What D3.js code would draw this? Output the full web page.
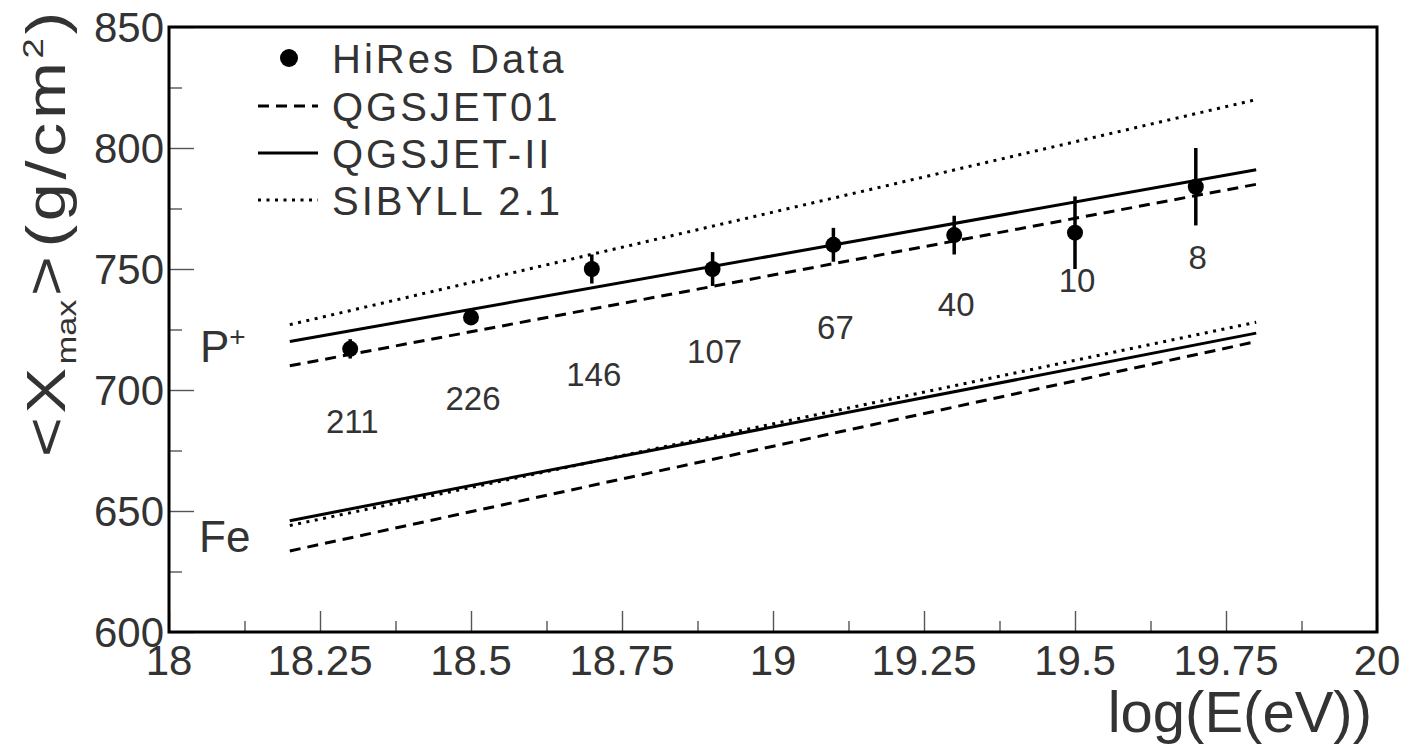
<!DOCTYPE html>
<html>
<head>
<meta charset="utf-8">
<script src="https://cdn.jsdelivr.net/npm/d3@7"></script>
<style>
  html, body { margin: 0; padding: 0; background: #fff; }
  svg { display: block; }
  text { font-family: "Liberation Sans", Arial, sans-serif; fill: #333; }
</style>
</head>
<body>
<svg id="chart" width="1414" height="748"></svg>
<script>
// HiRes mean depth of shower maximum per energy bin
const energy   = [18.3, 18.5, 18.7, 18.9, 19.1, 19.3, 19.5, 19.7];
const xmax     = [717, 730, 750, 750, 760, 764, 765, 784];
const xmaxErr  = [4, 3, 6, 7, 7, 8, 15, 16];
const nEvents  = [211, 226, 146, 107, 67, 40, 10, 8];

// Model predictions (straight lines in log E) for proton and iron primaries
const modelEnergy   = [18.2, 19.8];
const protonQGS01   = [710, 785];
const protonQGSII   = [720, 791];
const protonSIBYLL  = [727, 820];
const ironQGS01     = [633.5, 720];
const ironQGSII     = [646, 723.5];
const ironSIBYLL    = [644, 728];

const xTicks = [18, 18.25, 18.5, 18.75, 19, 19.25, 19.5, 19.75, 20];
const xTickLabels = ["18", "18.25", "18.5", "18.75", "19", "19.25", "19.5", "19.75", "20"];
const yTicks = [600, 650, 700, 750, 800, 850];
const legendNames = ["HiRes Data", "QGSJET01", "QGSJET-II", "SIBYLL 2.1"];

const svg = d3.select("#chart");
const frame = { left: 169, right: 1377, top: 27, bottom: 632 };

const x = d3.scaleLinear().domain([18, 20]).range([frame.left, frame.right]);
const y = d3.scaleLinear().domain([600, 850]).range([frame.bottom, frame.top]);

const styles = {
  dashed: "11,7",
  solid: null,
  dotted: "3,5.5"
};

// ticks drawn inward from left and bottom axes
const tickColor = "#555";
const xMinor = d3.range(0, 17).map(i => 18 + i * 0.125).filter(v => !xTicks.some(t => Math.abs(t - v) < 1e-9));
const yMinor = d3.range(0, 11).map(i => 600 + i * 25).filter(v => !yTicks.includes(v));

const axX = svg.append("g").attr("transform", `translate(0,${frame.bottom})`)
  .call(d3.axisBottom(x).tickValues(xTicks).tickSize(-21).tickFormat(""));
const axXm = svg.append("g").attr("transform", `translate(0,${frame.bottom})`)
  .call(d3.axisBottom(x).tickValues(xMinor).tickSize(-11).tickFormat(""));
const axY = svg.append("g").attr("transform", `translate(${frame.left},0)`)
  .call(d3.axisLeft(y).tickValues(yTicks).tickSize(-25).tickFormat(""));
const axYm = svg.append("g").attr("transform", `translate(${frame.left},0)`)
  .call(d3.axisLeft(y).tickValues(yMinor).tickSize(-13).tickFormat(""));
[axX, axXm, axY, axYm].forEach(g => {
  g.select(".domain").remove();
  g.selectAll(".tick line").attr("stroke", tickColor).attr("stroke-width", 1.4);
});

// tick labels
svg.append("g").selectAll("text").data(xTicks).join("text")
  .attr("x", d => x(d)).attr("y", 675)
  .attr("text-anchor", "middle")
  .attr("font-size", 42)
  .text((d, i) => xTickLabels[i]);

svg.append("g").selectAll("text").data(yTicks).join("text")
  .attr("x", 164).attr("y", d => y(d) + 15)
  .attr("text-anchor", "end")
  .attr("font-size", 42)
  .text(d => d);

// frame
svg.append("rect")
  .attr("x", frame.left).attr("y", frame.top)
  .attr("width", frame.right - frame.left).attr("height", frame.bottom - frame.top)
  .attr("fill", "none").attr("stroke", "#000").attr("stroke-width", 3);

// model lines
const line = d3.line().x(d => x(d[0])).y(d => y(d[1]));
const models = [
  { vals: protonQGS01, dash: styles.dashed },
  { vals: protonQGSII, dash: styles.solid },
  { vals: protonSIBYLL, dash: styles.dotted },
  { vals: ironQGS01, dash: styles.dashed },
  { vals: ironQGSII, dash: styles.solid },
  { vals: ironSIBYLL, dash: styles.dotted }
];
svg.append("g").selectAll("path").data(models).join("path")
  .attr("d", m => line(modelEnergy.map((e, i) => [e, m.vals[i]])))
  .attr("fill", "none")
  .attr("stroke", "#000")
  .attr("stroke-width", 3)
  .attr("stroke-dasharray", m => m.dash);

// data points with error bars
const pts = energy.map((e, i) => ({ e, v: xmax[i], err: xmaxErr[i], n: nEvents[i] }));
const gPts = svg.append("g");
gPts.selectAll("line").data(pts).join("line")
  .attr("x1", d => x(d.e)).attr("x2", d => x(d.e))
  .attr("y1", d => y(d.v - d.err)).attr("y2", d => y(d.v + d.err))
  .attr("stroke", "#000").attr("stroke-width", 3.5);
gPts.selectAll("circle").data(pts).join("circle")
  .attr("cx", d => x(d.e)).attr("cy", d => y(d.v)).attr("r", 8)
  .attr("fill", "#000");

// event counts below each point, stepped along a rising baseline
const countY = d3.scaleLinear().domain([18.3, 19.7]).range([687, 755]);
svg.append("g").selectAll("text").data(pts).join("text")
  .attr("x", d => x(d.e) + 2)
  .attr("y", d => y(countY(d.e)) + 12)
  .attr("text-anchor", "middle")
  .attr("font-size", 33)
  .text(d => d.n);

// legend
const legend = svg.append("g");
const legRows = [58, 106, 153, 200];
legend.append("circle").attr("cx", 289).attr("cy", legRows[0]).attr("r", 9).attr("fill", "#000");
[styles.dashed, styles.solid, styles.dotted].forEach((dash, i) => {
  legend.append("line")
    .attr("x1", 258).attr("x2", 318)
    .attr("y1", legRows[i + 1]).attr("y2", legRows[i + 1])
    .attr("stroke", "#000").attr("stroke-width", 3)
    .attr("stroke-dasharray", dash);
});
legendNames.forEach((name, i) => {
  legend.append("text")
    .attr("x", 332).attr("y", legRows[i] + 15)
    .attr("font-size", 40)
    .attr("letter-spacing", 3)
    .text(name);
});

// composition labels
const pLabel = svg.append("text").attr("x", 200).attr("y", 362).attr("font-size", 44);
pLabel.append("tspan").text("P");
pLabel.append("tspan").attr("dy", -16).attr("font-size", 28).text("+");
svg.append("text").attr("x", 199).attr("y", 552).attr("font-size", 44).text("Fe");

// axis titles
svg.append("text")
  .attr("x", 1372).attr("y", 732)
  .attr("text-anchor", "end")
  .attr("font-size", 58)
  .text("log(E(eV))");

// y title: glyphs stretched along the text direction
const yTitle = svg.append("text")
  .attr("transform", "translate(65,457) rotate(-90) scale(1.22,1)")
  .attr("text-anchor", "start")
  .attr("font-size", 56)
  .attr("letter-spacing", 3);
yTitle.append("tspan").text("<X");
yTitle.append("tspan").attr("font-size", 28).attr("letter-spacing", 0).attr("dy", 11).text("max");
yTitle.append("tspan").attr("dy", -11).attr("dx", 3).text(">");
yTitle.append("tspan").attr("dx", 4).text("(g/cm");
yTitle.append("tspan").attr("font-size", 30).attr("dy", -22).text("2");
yTitle.append("tspan").attr("dy", 22).text(")");
</script>
</body>
</html>
